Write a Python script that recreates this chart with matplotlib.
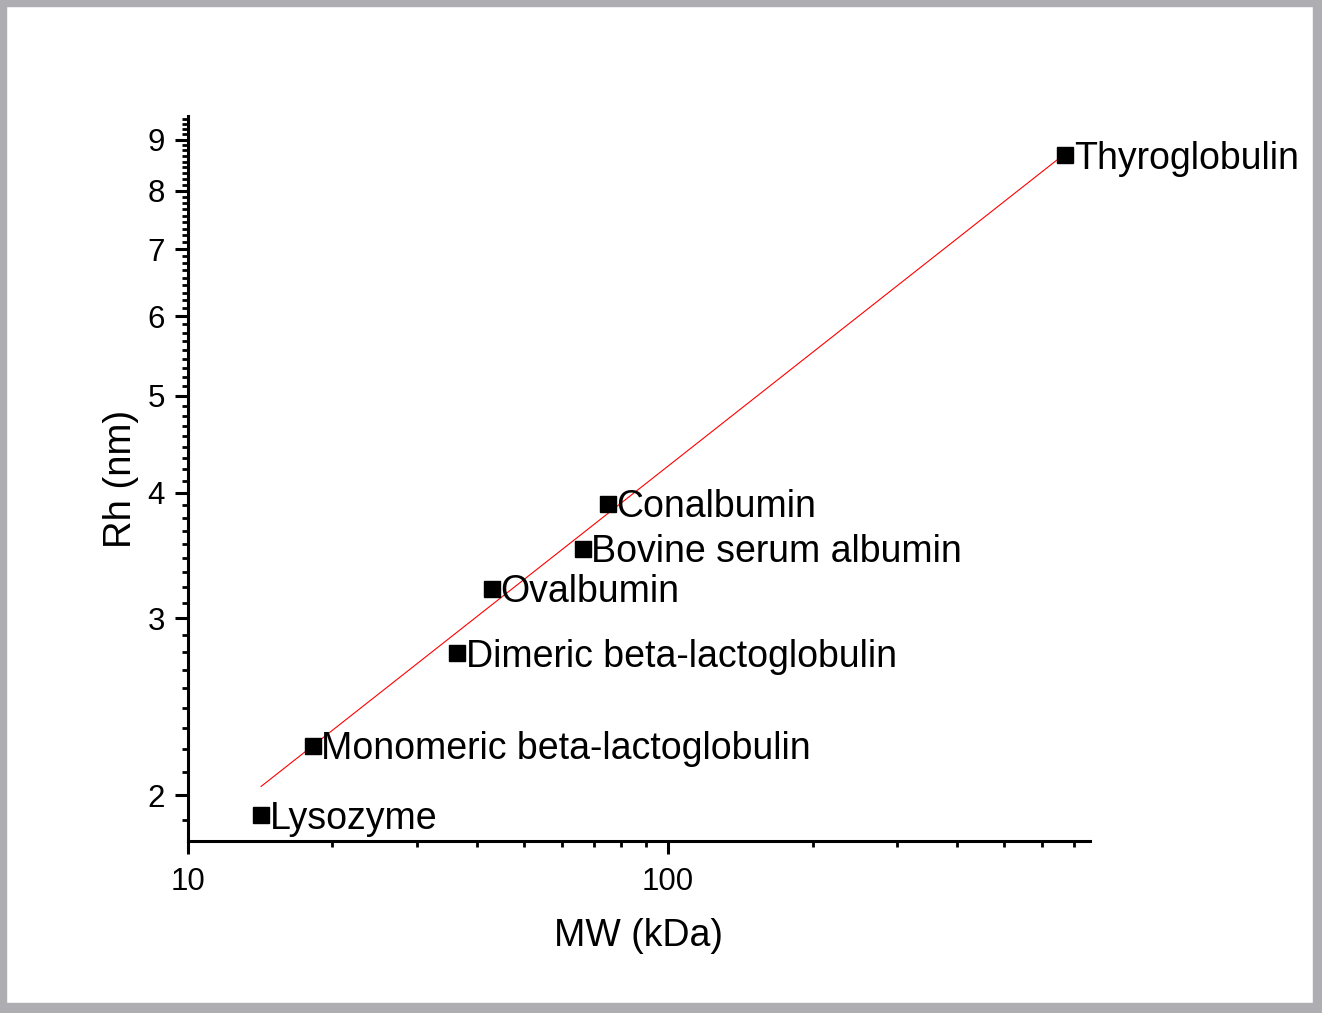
import numpy as np
import matplotlib.pyplot as plt
from matplotlib.patches import Rectangle
from matplotlib.ticker import FixedLocator, NullFormatter, LogLocator

plt.rcParams['font.family'] = ['Liberation Sans', 'DejaVu Sans']

# proteins
proteins = ['Lysozyme', 'Monomeric beta-lactoglobulin', 'Dimeric beta-lactoglobulin',
            'Ovalbumin', 'Bovine serum albumin', 'Conalbumin', 'Thyroglobulin']
mw_kda = [14.2, 18.2, 36.4, 42.9, 66.4, 74.9, 671]
rh_nm = [1.91, 2.24, 2.77, 3.21, 3.52, 3.90, 8.68]
rh_err = [0, 0, 0.045, 0, 0, 0, 0]

# power law fit line (log10 Rh = a*log10 MW + b)
fit_slope = 0.3765
fit_intercept = -0.1242

y_major = [2, 3, 4, 5, 6, 7, 8, 9]
x_major = [10, 100]

fig = plt.figure(figsize=(13.22, 10.13), dpi=100)
ax = fig.add_axes([0.1422, 0.1698, 0.8245 - 0.1422, 0.8855 - 0.1698])

# fit line
xf = np.array([mw_kda[0], mw_kda[-1]])
yf = 10 ** (fit_slope * np.log10(xf) + fit_intercept)
ax.plot(xf, yf, color='red', lw=0.8, zorder=2)

# only the dimer has a visible error bar
for x, y, e in zip(mw_kda, rh_nm, rh_err):
    if e > 0:
        ax.errorbar([x], [y], yerr=[e], fmt='none', ecolor='#555555',
                    elinewidth=1, capsize=6, capthick=1, zorder=3)
ax.plot(mw_kda, rh_nm, 's', color='black', ms=11.5, zorder=4)

# labels next to the points
offsets = [6, 6, 6, 6, 6, 6, 7]
for name, x, y, dx in zip(proteins, mw_kda, rh_nm, offsets):
    ax.annotate(name, (x, y), xytext=(dx, -9.7), textcoords='offset points',
                fontsize=27, ha='left', va='baseline', zorder=5)

ax.set_xscale('log')
ax.set_yscale('log')
ax.set_xlim(10, 757)
ax.set_ylim(1.8, 9.5)

ax.xaxis.set_major_locator(FixedLocator(x_major))
ax.xaxis.set_major_formatter(plt.FuncFormatter(lambda v, p: '%d' % v))
ax.xaxis.set_minor_locator(LogLocator(base=10, subs=np.arange(2, 10)))
ax.xaxis.set_minor_formatter(NullFormatter())

ax.yaxis.set_major_locator(FixedLocator(y_major))
ax.yaxis.set_major_formatter(plt.FuncFormatter(lambda v, p: '%d' % v))
y_minor = [n + k / 9 for n in range(1, 10) for k in range(1, 9)]
ax.yaxis.set_minor_locator(FixedLocator(y_minor))
ax.yaxis.set_minor_formatter(NullFormatter())

for s in ['top', 'right']:
    ax.spines[s].set_visible(False)
for s in ['left', 'bottom']:
    ax.spines[s].set_linewidth(2.2)

ax.tick_params(which='major', direction='out', length=9.5, width=2.2,
               labelsize=22.5, pad=7)
ax.tick_params(which='minor', direction='out', length=4.5, width=2)
ax.tick_params(axis='x', which='major', pad=9)

ax.set_xlabel('MW (kDa)', fontsize=27, labelpad=15)
ax.set_ylabel('Rh (nm)', fontsize=27.5, labelpad=6)

# grey frame round the picture
W, H = 1322, 1013
frame = '#aeadb2'
for x0, y0, w, h in [(0, 0, 6, H), (0, H - 6, W, 6), (W - 9, 0, 9, H), (0, 0, W, 10)]:
    fig.patches.append(Rectangle((x0 / W, y0 / H), w / W, h / H, transform=fig.transFigure,
                                 color=frame, zorder=10))

fig.savefig('out.png', dpi=100)
